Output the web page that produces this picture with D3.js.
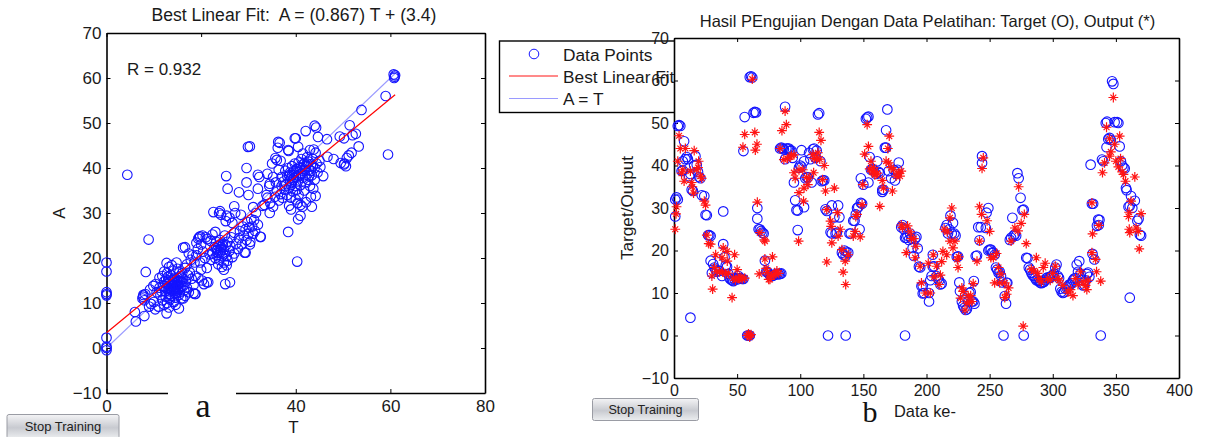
<!DOCTYPE html>
<html>
<head>
<meta charset="utf-8">
<script src="https://cdn.jsdelivr.net/npm/d3@7"></script>
<style>
  html, body { margin: 0; padding: 0; background: #fff; }
  svg { display: block; font-family: 'Liberation Sans', Arial, sans-serif; }
  .axis path, .axis line { stroke: #000; }
  .axis text { fill: #1a1a1a; }
</style>
</head>
<body>
<svg id="chart" width="1205" height="437"></svg>
<script>
// left panel: [T, A]
const scatterEdge = [
  [0,19],[0,17],[0,12.4],[0,12],[0,11.7],[0,2.3],[0,0.3],[0,0],[0,-0.5],
  [4.4,38.5],[8.9,24.1],[8.3,16.9],[6.2,5.9],[6,8],[8,7.1],[7.7,11.4],[7.6,11],[12.7,7.7],[15.3,8.8],[18.4,12.2],[18.8,12],[21.2,14.6],
  [25.1,14.2],[26.1,14.6],[16.2,22.3],[19.8,24.8],[19.4,24.3],[32.5,24.7],[30.3,23],[29.4,21.2],[25.4,18.4],[38.4,25.8],[40.3,19.2],[40.5,28.6],
  [29.9,44.7],[29.6,40],[25.3,38.2],[25.6,35.4],[28,34.6],[30,34],[32,38.5],[32.3,38],[29.6,36.8],[32,35.4],[34,38.7],[34.5,36.5],
  [36.6,45.6],[36.2,44.5],[40,46.6],[38.5,43.8],[36,41.8],[35.7,42.2],[22.6,30.2],[23.8,30],[24.2,29.6],[25.4,29.4],[27,31.5],[31,31.3],[33,31.6],[34.5,30],
  [60.7,60.8],[60.9,60.3],[61,60.6],[60.8,60],[59,56],[59.5,43],[53.9,52.9],[51.4,49.5],[44,49.4],[44.3,49],[42.1,48.2],[39.8,46.6],[44.7,46.9],[46.6,46.4],
  [49.3,47],[50.2,46.6],[52,47.3],[52.7,47.6],[53.3,44.8],[46.7,42.5],[48,42],[51.8,43.4],[51.2,42.8],[50.8,42.2],[49.5,41.1],[50.3,41],[50.6,40.4],[50.2,40.8],
  [45.8,38.2],[43.7,35.4],[43.2,33.6],[36.3,45.8],[30.3,44.8],[43,44],[43.8,44.1],[38.4,44],[40.5,44.7],[41.5,43.2],[32.6,24.7]
];
const scatterLow = [
  [10.3,8.6],[11,9.2],[9.4,9.8],[9,9.2],[10,10.2],[8,10.6],[7.8,11.8],[8.2,12],[9.9,13.8],[9.2,13],[10.4,14.2],[11.2,13.4],[10.6,12.4],[11.4,11.8],[11.8,10.6],[12.2,9.6],[12.8,10],[13.2,9],
  [13.4,10.8],[14.2,10.2],[14.6,9.6],[11.2,15.6],[11.8,16],[12.2,17],[12.7,18.9],[13.2,18],[13.8,18.4],[14.8,19],[14.2,17.2],[15,17.6],[15.4,16.8],[12.6,15.2],[12.9,14.2],[13.1,13.4],[13.3,12.6],
  [13.5,12],[13.7,11.6],[13.9,12.8],[14,13.8],[14.1,14.6],[14.2,15.2],[14.3,13.2],[14.4,14],[14.5,12.2],[14.6,11.2],[14.7,12.8],[14.8,13.6],[14.9,14.8],[15,15.6],[15.1,13],[15.2,14.2],[15.3,11.8],
  [13,15.8],[13.4,14.8],[13.6,16.2],[13.8,15],[13.2,11.2],[12.4,12.6],[12,13.8],[11.6,12.6],[12.2,14.8],[12.8,16.6],[15.6,14.8],[15.8,15.6],[16,16.6],[16.2,13.8],[16.4,12.8],[16.6,11.6],[15.8,11],
  [16.8,14.8],[17,13.4],[17.2,16.2],[16.6,17.8],[17,18.6],[16.6,22.4],[17.4,21],[17.8,19.6],[18.2,20.6],[18.6,19],[17.6,16.8],[18,15.4],[18.4,14],[18.8,16],[18.7,12],[17.4,12.4],[16.2,11],
  [19,20.6],[19.3,22],[19,23.4],[19.6,24.6],[20.3,25],[21,24.6],[21.3,24.2],[20,23],[20.4,21.4],[20.8,20],[19.8,19],[20,17.4],[19.4,15.6],[20.2,15],[20.6,14.2],[21.5,14.6],[21.2,17.8],
  [13.6,13.2],[13.9,14.2],[14.2,12.6],[14.4,15.6],[14.6,14.4],[14.7,13.2],[14.9,12.2],[15,14],[15.2,15],[15.4,13.2],[15.5,12.4],[15.6,16],[15.8,13.8],[16,14.6],[16.2,15.4],[13.4,13.8],[13.1,15],[12.7,13.2],[12.5,11.4]
];
const scatterMid = [
  [22.4,21],[22.8,22.4],[23,20],[23.2,23.6],[23.4,21.8],[23.6,22.7],[23.8,19.6],[24,24],[24,21.2],[24.2,22.4],[24.4,20.4],[24.6,23.2],[24.8,19],[24.8,21.8],[25,25],[25.2,22.8],[25.4,20.4],[25.6,23.6],
  [22,23.8],[22.4,25.2],[23,25.8],[21.8,20.8],[22.2,19.6],[23.6,18.6],[24.4,18],[24.8,17.4],[25.6,19.4],[26,21.6],[26.2,22.6],[26.4,24.6],[26.6,20.2],[27,21],[27,25.6],[27.4,23.2],[27.8,22],[28,24.4],[28.2,26],[28.6,23],
  [28.8,27],[29,25],[29.2,21.2],[29.4,26.4],[29.6,24],[29.8,28],[30,25.4],[30.2,26.8],[30.4,23.6],[30.6,28.6],[30.8,27],[31,25.4],[31.2,28.4],[31.4,26],[31.6,30],[32,27.4],[24,30.4],[26,29],[27.2,30],[28.4,29.6],[26.6,27.8],[25.2,28.2],
  [23.2,22.2],[23.5,21.2],[23.9,23],[24.2,21.8],[24.5,22.8],[24.7,20.8],[23.3,20.6]
];
const scatterHigh = [
  [33.4,31.8],[34,33.4],[34.6,32.2],[35.2,31.4],[35.6,33.6],[36,35],[36.4,32.8],[36.8,34.2],[37,36],[37,38],[37.2,33.4],[37.4,37],[37.6,35.2],[37.8,39.4],[38,36.4],[38.2,34],[38.2,38.2],[38.4,40],[38.6,35.6],[38.8,37.2],
  [38.8,39],[39,33.4],[39,36.2],[39.2,38.4],[39.2,40.4],[39.4,34.8],[39.4,37.4],[39.6,39.2],[39.8,36],[39.8,41],[40,33],[40,38],[40.2,35.2],[40.2,39.8],[40.4,37],[40.6,41.2],[40.6,34],[40.8,38.6],[41,36.2],[41,40],[41.2,42],
  [41.4,37.8],[41.6,39.4],[41.8,35],[41.8,41],[42,36.8],[42,38.4],[42.2,40.4],[42.4,42.4],[42.6,37.4],[42.8,39.6],[42.8,41.4],[43,36],[43.2,40.8],[43.4,38.4],[43.6,42],[44,37.4],[44,40],[44.2,43.4],[44.4,41],[44.6,39],[45,41.6],
  [45.2,40.2],[35,41],[35.2,38],[35.8,36.8],[36.4,39.6],[36.8,41.6],[34.4,36],[33.8,34],[41,31.8],[39,30.8],[41.4,31.4],[42.2,32.4],[38.6,31.6],[40.4,32.2],[44.2,33.8],[43.4,31.4],[41,29.4],
  [40,39.4],[40.4,38.4],[40.8,40.2],[41.2,38.8],[41.6,40.8],[42,39.6],[42.4,41],[42.8,38.2],[43.2,39.4],[43.6,40.4],[39.6,37.8],[39.2,36.8],[38.6,38.4]
];

// right panel: [sample, value]
const targetPoints = [
  [1,28],[1,32],[2,32.5],[3,32],[3,49.3],[4,49.5],[5,49.3],[6,38.7],[7,38.8],[7,41],[8,45.7],[9,41.5],[10,42],[11,41.5],[12,37.5],[13,38],[13,4.2],[14,34.3],[15,34],[16,40],[17,42.2],[18,40.2],[19,38.5],[20,37.3],[21,37],[22,33],[24,32.8],[25,28.4],[26,28.3],[27,23.6],[28,23.6],[29,23.4],
  [29,17.6],[30,14.7],[31,16.8],[32,16],[33,15.5],[34,15],[36,15.2],[38,14],[39,21.5],[39,29.2],[40,18.4],[41,16.5],[42,16.2],[43,14.5],[44,13.5],[45,13.2],[46,13],[47,12.8],[48,13.2],[49,13.5],[50,13.2],[51,14],[52,13.5],[53,13.4],[54,13.3],[55,13.3],
  [55,43.4],[56,51.4],[58,0],[59,0],[60,0],[60,60.8],[61,61],[62,60.7],[63,52.4],[64,52.6],[65,52.5],[66,30],[66,27.5],[67,25],[68,25],[69,24.6],[70,24.2],[71,24],
  [72,17.6],[73,15],[74,15],[75,14.6],[76,14.2],[77,14],[78,14],[79,14.2],[80,14.3],[81,14.5],[82,14.5],[83,14.4],[84,14.5],[85,14.6],
  [84,44],[85,44.2],[86,44],[87,43.8],[88,53.8],[88,41.5],[89,44],[90,44],[91,44],[92,43.5],[93,43.5],[94,41.8],[95,36],[96,31.8],[97,29.5],[98,29.4],[98,24.8],[99,39.5],[100,40],[101,39.7],[101,43.6],[103,41],[103,30.2],[104,37],[105,37.3],[106,37.2],[107,43],[108,41.5],[109,36],[110,43.8],[111,44],[112,41.8],[113,43.5],[114,52],[115,52.3],[116,41],[117,36.3],[118,36.5],[119,36.5],
  [120,29.7],[121,29.3],[122,0],[124,24.3],[125,24],[125,30.6],[127,27.8],[128,24],[129,24.2],[130,30.6],[131,27.8],[133,19.5],[134,19],[135,20],[136,18.7],[136,0],[136.5,19.7],[138,19.5],[139,24],[140,24],[142,27],[143,27],[144,28.5],[145,30],[146,30.2],[147,25],[148,37],[148,31.2],[149,31],[150,35.5],
  [152,51],[153,51.3],[154,51.5],[154,36],[155,42],[156,39],[157,39.2],[158,39],[160,38],[161,41],[162,38.5],[163,38.2],[165,34.3],[165,33.8],[166,34.3],[167,44.2],[168,44.2],[168,48.3],[169,53.2],[170,38.7],[172,37],[174,39],[175,36.5],[176,38],[177,39],[178,40.7],
  [180,25.5],[181,26],[182,25],[183,0],[183,23],[184,23],[185,23.5],[186,22.5],[187,24],[188,22.8],[189,20.6],[190,18.7],[191,22.8],[192,23.2],[193,20.5],[194,16.2],[195,16],[196,11.6],[197,11.7],[197,9.9],[198,10],[202,8],[202,10],[203,13],[204,14],[205,19],[205,16.2],[206,16.3],[208,14],[209,13.5],[210,13],[211,12],[212,12.2],
  [215,25.3],[216,26],[217,24],[218,25],[219,28.2],[220,24],[221,26.5],[222,24],[223,23.5],[224,18.5],[225,18.6],[226,12.5],[226.5,10.4],[228,8],[229,7],[230,6.5],[231,6],[232,6.2],[233,8],[234,10],[235,10.2],[236,8],[237,8],[237.5,12.8],[238,7.5],[239,18.7],[240,18.8],[241,25.5],[242,22.4],[243,25.5],[244,42.2],[244,40.6],[247,25.3],[247.6,28.9],[249,30],[249,20],[250,20.2],[251,20.2],[252,19.5],[253,19.5],[254,19],[255,16],[256,15.5],[257,14.8],[258,15],[259,14],[260,12.5],[261,0],[262,9.3],[263,7.5],[263.4,12.4],[264,12.4],
  [266,22.5],[267,23],[268,27.7],[269,23.5],[270,23.8],[271,23.5],[272,38.2],[273,37],[274.5,32.4],[276,29.5],[277,29.6],[277,0],
  [279,18.3],[280,18.2],[281,16],[282,15.5],[283,14.8],[284,14.2],[285,14],[286,13.5],[287,13],[288,13],[289,12.8],[290,12.4],[291,12.3],[292,12.5],[293,12.6],[294,13],[295,13.5],[296,13.7],[297,13.5],[298,13.6],[299,14],[300,14.2],[301,14.5],[302,16],[303,16.7],[304,14],[305,13.5],[306,11],[307,10.3],[308,10],[309,10.2],[310,11],[311,11.3],[312,11.5],[313,12],[314,12],[315,12.3],[316,13],[317,13.4],[318,13.5],[319,16.7],[320,15],[321,17.5],[322,14.5],[323,13],[324,11.8],[325,12],[326,13],[327,14.5],[328,14.8],[329,13.8],
  [330,40.2],[331,31],[331.5,19.2],[332,31],[333,17.9],[335,25.8],[336,27.3],[336.5,26],[337,27.2],[338,0],[339,41.4],[340,41],[342,50],[342.6,44.3],[343,50.3],[344,46.2],[345,46.5],[346,46],[347,59.8],[348,59.2],[349,50.2],[351,50.2],[352,50],[353,44.5],[354,41],[355,40],[356,39.5],[357,39.3],[358,34.7],[358.5,34.2],[360,30.3],[361,30.5],[361,8.9],[362,32.8],[363,30],[365,31.7],[367,27],[368,27.5],[369,23.7],[370,23.5]
];
const outputPoints = [
  [1,25],[1.6,28.6],[2,30.3],[3,41],[4,47],[5,44],[7,39],[6,38.2],[8,36.3],[9,44],[13,38.7],[14,36],[14.5,35],[15.5,33.5],[16,43.5],[18,39],[19,39.5],[19.5,41],[21,37.5],[22,37],[24,31.6],[25,30.7],
  [26,23.6],[27.5,21.6],[29,21.5],[30,14],[30.6,10.9],[32,16],[33,19],[34,15],[36,15],[38,18.3],[38.5,15],[39,20.6],[41,14.5],[42,19.8],[42.2,17.5],[43,14.7],[46,8.9],[47,13.5],[48,19],[48.6,13],[50,15.5],[51,13.5],[52,13.4],[53,13.6],[54,13.3],[56,13.5],
  [54.6,44.3],[56,47.3],[58,0],[59,0.4],[59.5,0],[60,-0.4],[61,0.2],[62,60.3],[64,47.8],[64.4,43.6],[65.7,45],[66,31.4],[68,24.2],[71.5,22.5],[72,22.2],[67.5,14.5],[72,18],[73,15.8],[74,14.8],[75,13.2],[76,13.2],[77,14],[78,18.5],[79,14.2],[80,14.5],[81.5,15.2],[83,14.6],
  [84,44],[85.5,48.2],[87,41.4],[88,52.8],[89,49.6],[90,41.6],[92,42],[93,42.4],[95,42.5],[95,38.3],[96,37],[98.7,22.2],[99,33.6],[99,39],[102,39],[102.6,31.6],[103,34.7],[105,37.2],[106,35.5],[107,37],[110,42.6],[110.6,38.3],[111,41.6],[113,41.5],[114,43],[115,47.8],[115.5,41.5],[116.4,45.9],[117.7,36.7],[119,40],[120,34],[121,29.6],[121,17.3],
  [124,26.9],[124.5,25.7],[125,21.8],[127,34.7],[129.5,28.9],[130,23.4],[131.7,25],[133,20.2],[134,14.9],[135.6,17.5],[136,12],[138,19],[142,23.4],[143.5,24.5],[144,28],[145,28.5],[147.5,23.2],[149,30.8],[149.5,35.5],
  [151,42.7],[153,49.6],[154,44.5],[155,39.2],[156,41],[157,38.5],[158,39.5],[159,37.8],[160,38],[161,38.2],[163,30.4],[165,36.5],[166,34.7],[168,41],[169.4,44],[170,40.6],[170.5,46.9],[172,39.5],[173,34],[174,39],[176,37.5],[178,38.2],[180,38.7],[179,37.5],
  [180,26],[181,25.4],[184,19.5],[185,25.8],[187,24.4],[188,22.8],[190,22.8],[191,18.3],[191.5,21],[195,16.3],[196,12.4],[199,10],[201.4,17],[203,10],[205.4,19],[206,13.8],[208,16.3],[210,12],[211,14.2],[212,17.4],[213,19.8],[214,25],[216,19],[216.5,24.4],[218.6,27.7],[218.6,22.2],[220,30],[221,20.6],[222.5,22.2],[224.4,17.9],[225,16],[225.5,18.5],
  [228,11.2],[229,10.4],[227,8.8],[232,7.6],[230.5,6],[236,8],[237,12.2],[235,9.4],[233,9.4],[234,7.8],[240,17.5],[242,30.3],[242,22.2],[243.6,28.5],[244,39.3],[245,41.8],[248,27],[250,24.5],[251,18.3],[253,18.3],[254,12.4],[255.5,19.3],[257,16],[259,14.5],[258,12.4],[262,12.4],[265,11.2],[263.5,9.7],[262,8.9],
  [267,22.2],[270,25.3],[272.5,24.6],[273,35],[275,26.4],[276.6,2.2],[277.5,28.5],[279,21.6],[283,15.6],[285,15.2],[287,18.3],[288,14.6],[289,13.4],[291,12.6],[292.5,16],[294,17],[296,13.4],[298,13],[300,14.6],[302,16.3],[304,13.4],[305,13],[308,11.8],[312,10.2],[314,10.8],[316,9.4],[318,13.4],[320,12],[322,15],[324,12.6],[326,11.8],[327,10.8],[328,13],
  [331,19.5],[331,31.2],[331.5,23.9],[334,17.9],[334.7,15],[336.5,25.9],[338,12.8],[339.4,38.3],[341,40.6],[342.6,49],[345,42.2],[345,46.3],[346,43.2],[348,56],[349,45],[350,41],[352,39.7],[353,46.9],[353.7,41.6],[355,38.5],[356,37.9],[357.6,36.3],[360,28],[360.5,29],[360.6,25],[361,24.2],[362,31.6],[365,37.3],[366,25.3],[367.7,24.5],[368.5,20.4],[370,28.7]
];

const xTicksLeft = [0, 40, 60, 80];  // the 20 is hidden behind the "a" patch in the original
const xTicksLeftTop = [0, 20, 40, 60, 80];
const yTicks = [-10, 0, 10, 20, 30, 40, 50, 60, 70];
const xTicksRight = [0, 50, 100, 150, 200, 250, 300, 350, 400];
const fitSlope = 0.867;
const fitOffset = 3.4;
const fitRange = [0, 61];

const blue = '#1414ff';
const red = '#ff1414';
const pale = '#9a9aff';

const svg = d3.select('#chart');

const grad = svg.append('defs').append('linearGradient')
  .attr('id', 'btn').attr('x1', 0).attr('y1', 0).attr('x2', 0).attr('y2', 1);
grad.append('stop').attr('offset', '0%').attr('stop-color', '#f4f4f6');
grad.append('stop').attr('offset', '55%').attr('stop-color', '#c8cad0');
grad.append('stop').attr('offset', '100%').attr('stop-color', '#eceef0');

// 8 armed star like the matlab marker
const starType = {
  draw(ctx, size) {
    const r = Math.sqrt(size);
    const d = r * 0.6;
    ctx.moveTo(-r, 0); ctx.lineTo(r, 0);
    ctx.moveTo(0, -r); ctx.lineTo(0, r);
    ctx.moveTo(-d, -d); ctx.lineTo(d, d);
    ctx.moveTo(-d, d); ctx.lineTo(d, -d);
  }
};

function drawFrame(g, x, y, xTicks, xTicksTop, tickFont) {
  const [x0, x1] = x.range();
  const [y0, y1] = y.range();
  g.append('rect').attr('x', x0).attr('y', y1).attr('width', x1 - x0).attr('height', y0 - y1).attr('fill', '#fff');

  const bottom = g.append('g').attr('class', 'axis').attr('transform', `translate(0,${y0})`)
    .call(d3.axisBottom(x).tickValues(xTicks).tickSize(-4).tickSizeOuter(0).tickPadding(7));
  const left = g.append('g').attr('class', 'axis').attr('transform', `translate(${x0},0)`)
    .call(d3.axisLeft(y).tickValues(yTicks).tickSize(-4).tickSizeOuter(0).tickPadding(5));
  g.append('g').attr('class', 'axis').attr('transform', `translate(0,${y1})`)
    .call(d3.axisTop(x).tickValues(xTicksTop).tickSize(-4).tickSizeOuter(0).tickFormat(''));
  g.append('g').attr('class', 'axis').attr('transform', `translate(${x1},0)`)
    .call(d3.axisRight(y).tickValues(yTicks).tickSize(-4).tickSizeOuter(0).tickFormat(''));

  g.selectAll('.axis path').attr('stroke-width', 1.6);
  g.selectAll('.axis line').attr('stroke-width', 1);
  g.selectAll('.axis text').attr('font-size', tickFont).attr('font-family', "'Liberation Sans', Arial, sans-serif");
  bottom.selectAll('text').attr('dy', '0.71em');
  left.selectAll('text').attr('dy', '0.32em');
}

function circles(g, data, x, y, cls) {
  g.append('g').selectAll('circle.' + cls).data(data).join('circle')
    .attr('class', cls)
    .attr('cx', d => x(d[0]))
    .attr('cy', d => y(d[1]))
    .attr('r', 4.8)
    .attr('fill', 'none')
    .attr('stroke', blue)
    .attr('stroke-width', 1.1);
}

function button(x, y, w, h, font) {
  const b = svg.append('g').attr('transform', `translate(${x},${y})`);
  b.append('rect').attr('width', w).attr('height', h).attr('rx', 2)
    .attr('fill', 'url(#btn)').attr('stroke', '#9a9ca4');
  b.append('text').attr('x', w / 2).attr('y', h / 2 + 4).attr('text-anchor', 'middle')
    .attr('font-size', font).attr('fill', '#222').text('Stop Training');
}

// left panel
const xLeft = d3.scaleLinear().domain([0, 80]).range([106.5, 485]);
const yLeft = d3.scaleLinear().domain([-10, 70]).range([393, 33]);
const leftG = svg.append('g');
drawFrame(leftG, xLeft, yLeft, xTicksLeft, xTicksLeftTop, 17);

const lineLeft = d3.line().x(d => xLeft(d[0])).y(d => yLeft(d[1]));
leftG.append('path').attr('d', lineLeft(fitRange.map(t => [t, t])))
  .attr('fill', 'none').attr('stroke', pale).attr('stroke-width', 1.1);
circles(leftG, [...scatterEdge, ...scatterLow, ...scatterMid, ...scatterHigh], xLeft, yLeft, 'scatter');
leftG.append('path').attr('d', lineLeft(fitRange.map(t => [t, fitSlope * t + fitOffset])))
  .attr('fill', 'none').attr('stroke', '#ff0000').attr('stroke-width', 1.2);

leftG.append('text').attr('x', 127).attr('y', 75).attr('font-size', 17).attr('fill', '#1a1a1a').text('R = 0.932');
svg.append('text').attr('x', 294).attr('y', 21).attr('text-anchor', 'middle').attr('font-size', 17.6)
  .attr('fill', '#1a1a1a').style('white-space', 'pre').text('Best Linear Fit:  A = (0.867) T + (3.4)');
svg.append('text').attr('x', 293.5).attr('y', 433).attr('text-anchor', 'middle').attr('font-size', 17).attr('fill', '#1a1a1a').text('T');
svg.append('text').attr('transform', 'translate(65,213) rotate(-90)').attr('text-anchor', 'middle')
  .attr('font-size', 17).attr('fill', '#1a1a1a').text('A');

// label patch over the axis
svg.append('rect').attr('x', 168).attr('y', 388).attr('width', 68).attr('height', 32).attr('fill', '#fff');
svg.append('text').attr('x', 203).attr('y', 416.5).attr('text-anchor', 'middle').attr('font-size', 34)
  .attr('font-family', "'Liberation Serif', serif").attr('fill', '#111').text('a');

// legend, the right panel covers part of it
const legend = svg.append('g');
legend.append('rect').attr('x', 499.5).attr('y', 41).attr('width', 200).attr('height', 71.5)
  .attr('fill', '#fff').attr('stroke', '#000').attr('stroke-width', 1.4);
legend.append('circle').attr('cx', 534).attr('cy', 54).attr('r', 4.8).attr('fill', 'none').attr('stroke', blue);
legend.append('line').attr('x1', 509).attr('x2', 558).attr('y1', 76).attr('y2', 76).attr('stroke', red);
legend.append('line').attr('x1', 509).attr('x2', 558).attr('y1', 98.5).attr('y2', 98.5).attr('stroke', pale);
['Data Points', 'Best Linear Fit', 'A = T'].forEach((t, i) => {
  legend.append('text').attr('x', 563).attr('y', 60.5 + i * 22.3).attr('font-size', 17.3).attr('fill', '#1a1a1a').text(t);
});

// right panel
const xRight = d3.scaleLinear().domain([0, 400]).range([674, 1179]);
const yRight = d3.scaleLinear().domain([-10, 70]).range([378, 38]);
const rightG = svg.append('g');
drawFrame(rightG, xRight, yRight, xTicksRight, xTicksRight, 16);
circles(rightG, targetPoints, xRight, yRight, 'target');

rightG.append('g').selectAll('path').data(outputPoints).join('path')
  .attr('d', d3.symbol().type(starType).size(24))
  .attr('transform', d => `translate(${xRight(d[0])},${yRight(d[1])})`)
  .attr('fill', 'none')
  .attr('stroke', red)
  .attr('stroke-width', 1.2);

svg.append('text').attr('x', 927.5).attr('y', 27).attr('text-anchor', 'middle').attr('font-size', 16.5).attr('fill', '#1a1a1a')
  .text('Hasil PEngujian Dengan Data Pelatihan: Target (O), Output (*)');
svg.append('text').attr('x', 894).attr('y', 416.5).attr('font-size', 16.4).attr('fill', '#1a1a1a').text('Data ke-');
svg.append('text').attr('transform', 'translate(633,208) rotate(-90)').attr('text-anchor', 'middle')
  .attr('font-size', 17.2).attr('fill', '#1a1a1a').text('Target/Output');
svg.append('text').attr('x', 870).attr('y', 421.5).attr('text-anchor', 'middle').attr('font-size', 30)
  .attr('font-family', "'Liberation Serif', serif").attr('fill', '#111').text('b');

button(7, 414.5, 112, 24, 13);
button(592.5, 398.5, 106, 22, 12.6);
</script>
</body>
</html>
